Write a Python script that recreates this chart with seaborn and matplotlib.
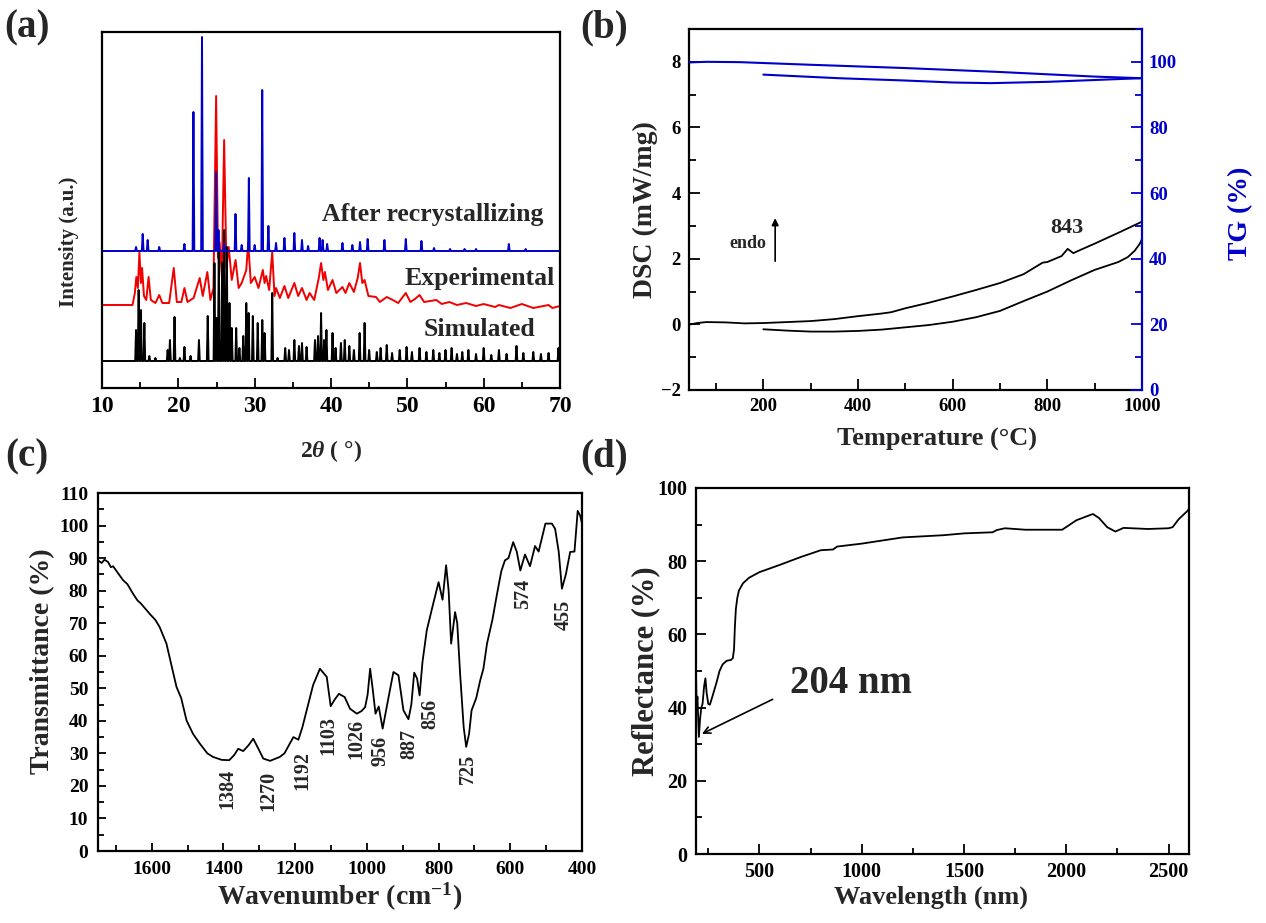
import numpy as np
import pandas as pd
import matplotlib
matplotlib.use('Agg')
import matplotlib.pyplot as plt
from matplotlib.ticker import MultipleLocator
import seaborn as sns

# ---------------- data ----------------
# (a) XRD, peak tables (intensity in arbitrary units)
blue_pos = [14.46, 15.33, 15.98, 17.5, 20.8, 21.98, 23.1, 24.95, 25.26, 26.0, 27.49, 28.3,
            29.24, 30.0, 30.99, 31.8, 32.8, 33.9, 35.2, 36.2, 37.0, 38.5, 38.9, 39.5, 41.5,
            42.8, 43.8, 44.8, 47.0, 49.8, 51.85, 53.5, 55.6, 57.5, 59.0, 63.3, 65.5]
blue_int = [141, 154, 148, 141, 144, 276, 351, 216, 158, 145, 174, 143,
            210, 143, 298, 162, 145, 150, 155, 148, 142, 150, 148, 144, 145,
            143, 146, 149, 148, 149, 147, 140, 139, 139, 139, 144, 139]
blue_base = 137

black_pos = [14.46, 14.8, 15.1, 15.55, 16.2, 17.0, 18.6, 18.9, 19.5, 20.2, 20.8, 21.6, 22.7,
             23.85, 24.73, 25.0, 25.3, 25.74, 26.0, 26.35, 26.7, 27.0, 27.58, 28.0, 28.5,
             28.9, 29.2, 29.76, 30.4, 31.0, 31.3, 32.3, 33.0, 34.0, 34.5, 35.2, 35.8, 36.2,
             36.8, 37.9, 38.3, 38.7, 39.1, 39.4, 40.2, 40.6, 41.3, 41.8, 42.4, 43.0, 43.75,
             44.4, 45.0, 46.0, 46.5, 47.3, 48.0, 49.0, 49.9, 50.6, 51.6, 52.5, 53.4, 54.2,
             55.0, 55.8, 56.5, 57.2, 58.0, 59.0, 60.0, 61.0, 62.0, 63.0, 64.3, 65.2, 66.5,
             67.5, 68.5, 69.8]
black_int = [58, 98, 78, 65, 32, 30, 38, 48, 71, 30, 41, 32, 48,
             72, 125, 70, 141, 125, 158, 141, 85, 60, 60, 40, 52,
             85, 75, 72, 65, 68, 55, 95, 30, 40, 38, 48, 42, 45,
             41, 48, 52, 75, 48, 58, 55, 40, 45, 48, 42, 38, 55,
             65, 38, 36, 40, 43, 35, 38, 41, 36, 40, 36, 38, 35,
             38, 40, 34, 36, 38, 34, 40, 33, 38, 34, 42, 35, 36,
             34, 35, 40]
black_base = 27

red_2theta = [10, 14.0, 14.3, 14.5, 14.7, 14.9, 15.1, 15.25, 15.5, 15.8, 16.1, 16.4, 17.0, 17.5,
              17.9, 18.8, 19.4, 19.8, 20.4, 20.8, 21.2, 22.0, 22.8, 23.2, 23.8, 24.2, 24.6,
              24.95, 25.2, 25.4, 25.7, 26.0, 26.3, 26.6, 27.0, 27.5, 27.9, 28.3, 28.9, 29.15,
              29.5, 30.0, 30.5, 31.07, 31.3, 31.5, 31.9, 32.3, 32.6, 32.8, 33.3, 33.9, 34.4,
              35.2, 35.7, 36.2, 36.8, 37.2, 37.8, 38.4, 38.7, 39.0, 39.2, 39.6, 40.2, 40.7,
              41.5, 41.9, 42.4, 43.0, 43.5, 43.8, 44.1, 44.4, 44.9, 45.9, 46.4, 47.3, 48.1,
              48.8, 49.8, 50.4, 51.0, 51.6, 52.2, 53.8, 54.5, 55.5, 56.5, 57.7, 59.0, 60.0,
              61.5, 62.0, 63.5, 65.0, 66.5, 68.5, 69.0, 70.0]
red_int = [83, 83, 95, 111, 100, 136, 105, 120, 92, 88, 111, 88, 85, 93,
           85, 85, 120, 86, 86, 100, 86, 90, 110, 92, 116, 88, 100,
           292, 130, 146, 112, 248, 120, 141, 108, 128, 100, 105, 118, 145,
           105, 111, 100, 118, 105, 112, 98, 136, 92, 100, 90, 102, 90,
           105, 92, 100, 88, 95, 88, 110, 125, 108, 116, 98, 108, 95,
           101, 95, 105, 96, 110, 125, 105, 108, 92, 91, 86, 91, 88,
           85, 95, 86, 89, 93, 86, 88, 84, 86, 83, 85, 82, 84,
           81, 83, 80, 84, 80, 83, 80, 82]

xrd_names = ['After recrystallizing', 'Experimental', 'Simulated']

# (b) DSC / TG
dsc_heat_T = [40, 60, 80, 120, 160, 200, 250, 300, 350, 400, 450, 470, 500, 550, 600, 650,
              700, 750, 790, 800, 830, 843, 855, 870, 900, 950, 1000]
dsc_heat = [-0.02, 0.04, 0.07, 0.06, 0.03, 0.04, 0.07, 0.10, 0.16, 0.25, 0.33, 0.37, 0.49,
            0.66, 0.85, 1.05, 1.26, 1.53, 1.88, 1.90, 2.08, 2.30, 2.17, 2.27, 2.46, 2.79, 3.13]
dsc_cool_T = [1000, 995, 985, 970, 950, 900, 850, 800, 750, 700, 650, 600, 550, 500, 450,
              400, 350, 300, 250, 200]
dsc_cool = [2.60, 2.45, 2.25, 2.05, 1.90, 1.66, 1.34, 1.00, 0.71, 0.41, 0.22, 0.08, -0.02,
            -0.09, -0.16, -0.20, -0.22, -0.22, -0.19, -0.15]
tg_heat_T = [40, 80, 150, 300, 500, 700, 900, 1000]
tg_heat = [99.8, 100.0, 99.9, 99.1, 98.1, 96.9, 95.5, 95.0]
tg_cool_T = [1000, 960, 890, 800, 680, 600, 500, 360, 200]
tg_cool = [95.0, 94.8, 94.4, 93.9, 93.5, 93.7, 94.3, 95.0, 96.1]

# (c) FT-IR
ir_wn = [1750, 1740, 1732, 1722, 1714, 1708, 1695, 1680, 1668, 1652, 1640, 1630, 1606, 1590,
         1578, 1559, 1545, 1531, 1518, 1503, 1485, 1466, 1445, 1429, 1405, 1384, 1370, 1359,
         1345, 1330, 1317, 1303, 1289, 1270, 1243, 1230, 1205, 1191, 1180, 1168, 1150, 1131,
         1112, 1101, 1090, 1078, 1062, 1047, 1028, 1015, 1005, 998, 991, 984, 976, 967, 956,
         940, 926, 912, 898, 884, 876, 868, 860, 853, 845, 833, 815, 800, 789, 779, 772, 765,
         754, 748, 740, 730, 723, 715, 708, 695, 684, 675, 665, 650, 637, 625, 615, 605, 592,
         582, 572, 559, 545, 531, 521, 510, 502, 484, 475, 465, 456, 445, 433, 421, 412, 405,
         400]
ir_T = [89.3, 88.5, 89.5, 88.8, 87.2, 87.5, 85.5, 83.2, 82.0, 79.0, 77.0, 76.0, 72.9, 71.0,
        68.8, 63.7, 57.0, 50.4, 47.0, 40.1, 36.0, 33.0, 30.0, 28.9, 28.0, 27.9, 29.5, 31.4,
        30.7, 32.5, 34.5, 31.5, 28.4, 27.7, 28.9, 30.0, 35.0, 34.2, 38.0, 43.2, 51.0, 56.0,
        53.5, 44.5, 46.5, 48.3, 47.3, 43.7, 42.2, 43.0, 44.2, 48.0, 56.0, 50.0, 42.2, 44.4, 37.6,
        47.0, 55.0, 54.0, 43.2, 40.5, 45.0, 54.8, 53.0, 47.8, 58.0, 67.8, 76.0, 82.6, 77.2, 87.8,
        80.0, 63.7, 73.4, 70.0, 54.5, 38.0, 32.0, 36.0, 43.2, 47.0, 52.4, 56.0, 63.7, 71.0,
        79.0, 86.0, 89.3, 90.0, 94.9, 92.0, 86.2, 91.1, 87.5, 93.7, 92.0, 97.0, 100.6, 100.6,
        99.0, 92.0, 80.6, 85.0, 91.9, 92.0, 104.5, 103.0, 100.6]
ir_peaks = ['1384', '1270', '1192', '1103', '1026', '956', '887', '856', '725', '574', '455']
ir_peak_x = [1390, 1275, 1180, 1108, 1028, 963, 881, 824, 717, 563, 451]
ir_peak_y = [19.2, 18.6, 24.8, 35.5, 34.5, 30.7, 32.8, 42.2, 25.3, 79.0, 72.4]

# (d) UV-Vis-NIR diffuse reflectance
uv_nm = [190, 193, 197, 204, 210, 216, 222, 230, 236, 242, 250, 258, 270, 290, 305, 320, 340,
         360, 370, 376, 380, 385, 392, 400, 420, 450, 500, 600, 700, 800, 860, 880, 1000,
         1200, 1400, 1500, 1640, 1660, 1700, 1800, 1980, 2050, 2130, 2160, 2200, 2240, 2280,
         2400, 2500, 2520, 2550, 2590, 2600]
uv_R = [50.0, 40.0, 43.0, 32.0, 37.0, 40.0, 41.0, 46.0, 48.0, 44.0, 41.0, 40.8, 43.0, 46.8,
        50.0, 51.8, 52.8, 53.0, 53.5, 56.0, 62.0, 67.0, 70.0, 72.0, 74.0, 75.5, 77.0, 79.0,
        81.1, 83.0, 83.2, 84.0, 84.8, 86.5, 87.1, 87.6, 87.9, 88.5, 89.0, 88.6, 88.6, 91.2,
        92.9, 91.8, 89.3, 88.1, 89.1, 88.8, 89.0, 89.3, 91.5, 93.6, 94.3]

# ---------------- style ----------------
BLUE = '#0000C8'
RED = '#F00000'
sns.set_theme(style='ticks')
plt.rcParams['font.family'] = ['Liberation Serif', 'DejaVu Serif']
plt.rcParams['font.weight'] = 'bold'
plt.rcParams['axes.labelweight'] = 'bold'
plt.rcParams['axes.linewidth'] = 1.6
plt.rcParams['mathtext.fontset'] = 'custom'
plt.rcParams['mathtext.rm'] = 'Liberation Serif:bold'
plt.rcParams['mathtext.it'] = 'Liberation Serif:italic:bold'
plt.rcParams['mathtext.bf'] = 'Liberation Serif:bold'
plt.rcParams['mathtext.default'] = 'regular'


def peaks_to_line(pos, height, base, half_width, x0=10.0, x1=70.0):
    """Turn a peak table into a stick-like polyline."""
    xs, ys = [x0], [base]
    for p, h in sorted(zip(pos, height)):
        xs += [p - half_width, p, p + half_width]
        ys += [base, h, base]
    xs.append(x1)
    ys.append(base)
    return pd.DataFrame({'two_theta': xs, 'intensity': ys})


def style_axes(ax, fs, major_len=7, minor_len=4, pad=5):
    ax.tick_params(which='both', direction='in', labelsize=fs, width=1.3,
                   colors='black', pad=pad)
    ax.tick_params(which='major', length=major_len)
    ax.tick_params(which='minor', length=minor_len)
    for s in ax.spines.values():
        s.set_linewidth(1.6)
        s.set_color('black')


fig = plt.figure(figsize=(12.66, 9.23), dpi=100)
W, H = 1266, 923


def add_axes_px(left, top, right, bottom):
    return fig.add_axes([left / W, 1 - bottom / H, (right - left) / W, (bottom - top) / H])


# ---------------- (a) XRD ----------------
ax_a = add_axes_px(102, 32, 560, 388)
red_df = pd.DataFrame({'two_theta': red_2theta, 'intensity': red_int})
sns.lineplot(data=red_df, x='two_theta', y='intensity', ax=ax_a, color=RED, lw=1.4,
             sort=False, estimator=None)
sns.lineplot(data=peaks_to_line(black_pos, black_int, black_base, 0.11), x='two_theta',
             y='intensity', ax=ax_a, color='black', lw=1.4, sort=False, estimator=None)
sns.lineplot(data=peaks_to_line(blue_pos, blue_int, blue_base, 0.11), x='two_theta',
             y='intensity', ax=ax_a, color=BLUE, lw=1.4, sort=False, estimator=None)
ax_a.set_xlim(10, 70)
ax_a.set_ylim(0, 356)
ax_a.xaxis.set_major_locator(MultipleLocator(10))
ax_a.xaxis.set_minor_locator(MultipleLocator(5))
ax_a.set_yticks([])
style_axes(ax_a, 17, pad=6)
ax_a.set_xlabel('2$\\mathit{\\theta}$ ( °)', fontsize=17)
ax_a.set_ylabel('Intensity (a.u.)', fontsize=15)
ax_a.xaxis.set_label_coords(0.5, -0.14)
ax_a.yaxis.set_label_coords(-0.05, 0.41)
for name, x, y in zip(xrd_names, [53.3, 59.5, 59.5], [173, 110, 59]):
    ax_a.text(x, y, name, fontsize=18.5, fontweight='bold', ha='center', va='center')

# ---------------- (b) DSC / TG ----------------
ax_b = add_axes_px(689, 29, 1142, 390)
sns.lineplot(x=dsc_heat_T, y=dsc_heat, ax=ax_b, color='black', lw=1.3, sort=False,
             estimator=None)
sns.lineplot(x=dsc_cool_T, y=dsc_cool, ax=ax_b, color='black', lw=1.3, sort=False,
             estimator=None)
ax_b.set_xlim(43, 1000)
ax_b.set_ylim(-2, 9)
ax_b.xaxis.set_major_locator(MultipleLocator(200))
ax_b.xaxis.set_minor_locator(MultipleLocator(100))
ax_b.yaxis.set_major_locator(MultipleLocator(2))
ax_b.yaxis.set_minor_locator(MultipleLocator(1))
style_axes(ax_b, 13.5, 8, 5, pad=6)
ax_b.spines['right'].set_visible(False)
ax_b.set_xlabel('Temperature (°C)', fontsize=19)
ax_b.set_ylabel('DSC (mW/mg)', fontsize=20)
ax_b.xaxis.set_label_coords(0.548, -0.105)
ax_b.yaxis.set_label_coords(-0.068, 0.5)
ax_b.text(841, 2.93, '843', fontsize=16, fontweight='bold', ha='center', va='center')
ax_b.text(167, 2.47, 'endo', fontsize=13, fontweight='bold', ha='center', va='center')
ax_b.annotate('', xy=(225, 3.32), xytext=(225, 1.84),
              arrowprops=dict(arrowstyle='-|>', color='black', lw=1.2,
                              mutation_scale=10))

ax_tg = ax_b.twinx()
sns.lineplot(x=tg_heat_T, y=tg_heat, ax=ax_tg, color=BLUE, lw=1.5, sort=False,
             estimator=None)
sns.lineplot(x=tg_cool_T, y=tg_cool, ax=ax_tg, color=BLUE, lw=1.5, sort=False,
             estimator=None)
ax_tg.set_ylim(0, 110)
ax_tg.yaxis.set_major_locator(MultipleLocator(20))
ax_tg.yaxis.set_minor_locator(MultipleLocator(10))
ax_tg.tick_params(which='both', direction='in', labelsize=13.5, width=1.3,
                  colors=BLUE, pad=5)
ax_tg.tick_params(which='major', length=8)
ax_tg.tick_params(which='minor', length=5)
for side in ['left', 'top', 'bottom']:
    ax_tg.spines[side].set_visible(False)
ax_tg.spines['right'].set_color(BLUE)
ax_tg.spines['right'].set_linewidth(1.6)
ax_tg.set_ylabel('TG (%)', fontsize=20, color=BLUE)
ax_tg.yaxis.set_label_coords(1.19, 0.49)

# ---------------- (c) FT-IR ----------------
ax_c = add_axes_px(98, 493, 582, 851)
sns.lineplot(x=ir_wn, y=ir_T, ax=ax_c, color='black', lw=1.3, sort=False, estimator=None)
ax_c.set_xlim(1750, 400)
ax_c.set_ylim(0, 110)
ax_c.xaxis.set_major_locator(MultipleLocator(200))
ax_c.xaxis.set_minor_locator(MultipleLocator(100))
ax_c.yaxis.set_major_locator(MultipleLocator(10))
ax_c.yaxis.set_minor_locator(MultipleLocator(5))
style_axes(ax_c, 14, 6, 4, pad=7)
ax_c.set_xlabel('Wavenumber (cm$^{-1}$)', fontsize=20)
ax_c.set_ylabel('Transmittance (%)', fontsize=20)
ax_c.xaxis.set_label_coords(0.5, -0.082)
ax_c.yaxis.set_label_coords(-0.089, 0.53)
for lab, x, y in zip(ir_peaks, ir_peak_x, ir_peak_y):
    ax_c.text(x, y, lab, fontsize=14.5, fontweight='bold', rotation=90,
              ha='center', va='center')

# ---------------- (d) reflectance ----------------
ax_d = add_axes_px(696, 488, 1189, 854)
sns.lineplot(x=uv_nm, y=uv_R, ax=ax_d, color='black', lw=1.3, sort=False, estimator=None)
ax_d.set_xlim(190, 2600)
ax_d.set_ylim(0, 100)
ax_d.xaxis.set_major_locator(MultipleLocator(500))
ax_d.xaxis.set_minor_locator(MultipleLocator(250))
ax_d.yaxis.set_major_locator(MultipleLocator(20))
ax_d.yaxis.set_minor_locator(MultipleLocator(10))
style_axes(ax_d, 14.5, 7, 4, pad=6)
ax_d.set_xlabel('Wavelength (nm)', fontsize=19)
ax_d.set_ylabel('Reflectance (%)', fontsize=22)
ax_d.xaxis.set_label_coords(0.477, -0.085)
ax_d.yaxis.set_label_coords(-0.073, 0.5)
ax_d.text(945, 46.7, '204 nm', fontsize=28, fontweight='bold', ha='center', va='center')
ax_d.annotate('', xy=(207, 32.5), xytext=(577, 42.6),
              arrowprops=dict(arrowstyle='->', color='black', lw=1.2))

# panel letters
for lab, x, y in [('(a)', 27, 28), ('(b)', 604, 28), ('(c)', 27, 457), ('(d)', 604, 457)]:
    fig.text(x / W, 1 - y / H, lab, fontsize=28, fontweight='bold', ha='center', va='center')

fig.savefig('out.png', dpi=100)
